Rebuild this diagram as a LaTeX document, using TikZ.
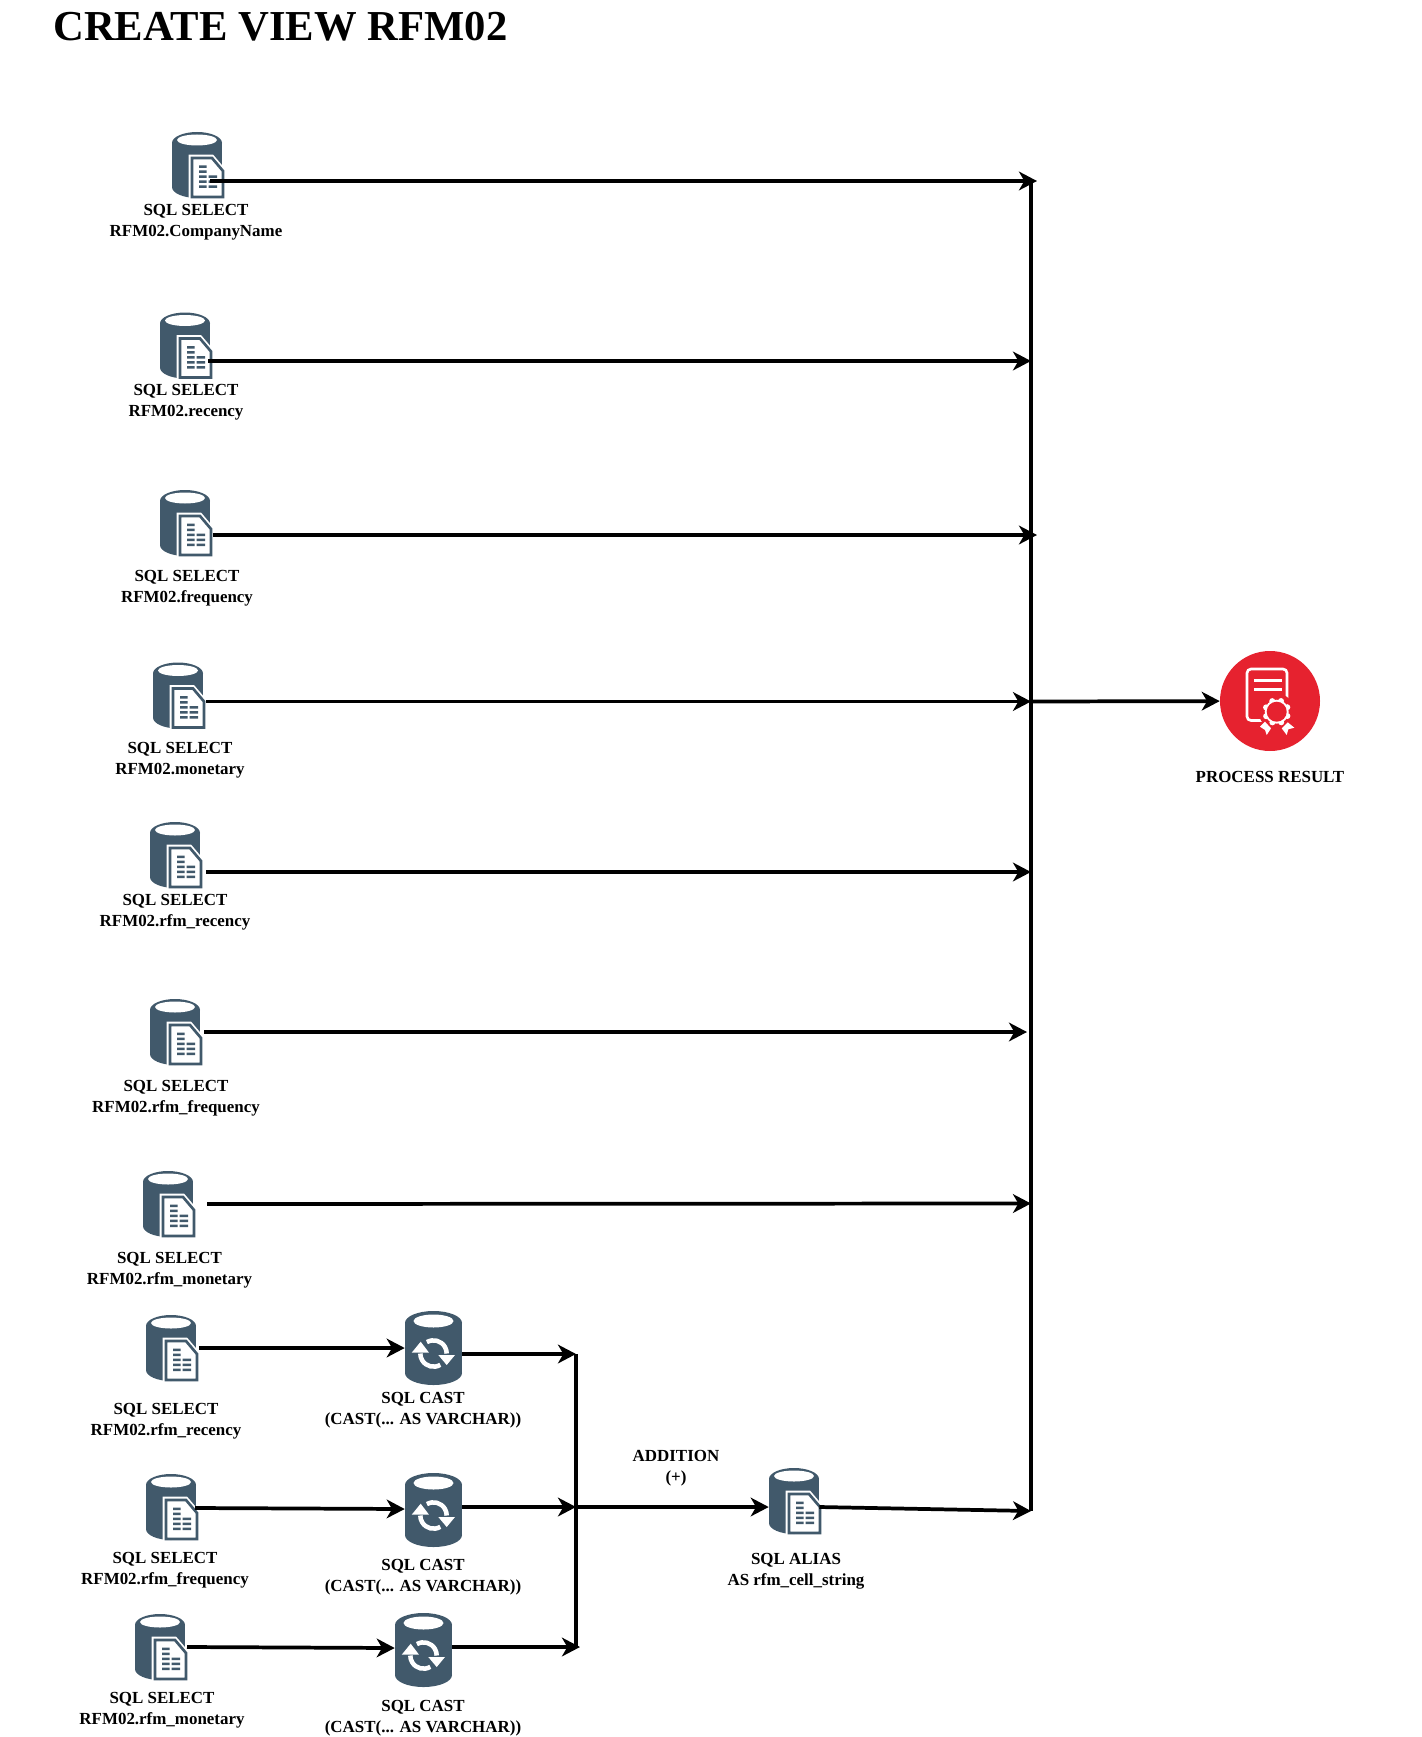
\documentclass[tikz,border=0pt]{standalone}
\usepackage{fontspec}
\setmainfont{Liberation Serif}
\usepackage{xcolor}
\usetikzlibrary{arrows.meta, positioning, calc}
\definecolor{dbslate}{HTML}{41596B}
\definecolor{certred}{HTML}{E6222F}
\tikzset{
  dbbox/.style={rectangle, minimum width=37.5pt, minimum height=49.5pt, inner sep=0pt},
  castbox/.style={rectangle, minimum width=42.75pt, minimum height=55.5pt, inner sep=0pt},
  resbox/.style={circle, fill=certred, minimum size=75pt, inner sep=0pt},
  lab/.style={font=\fontsize{12.7}{15.75}\selectfont\bfseries, align=center, inner sep=0pt},
  flow/.style={draw=black, line width=2.8pt, -{Stealth[length=13.5pt, width=14pt, inset=4pt]}},
  busline/.style={draw=black, line width=3pt},
  dbdoc/.pic={
    \fill[dbslate] (-25,-22) rectangle (25,22);
    \fill[dbslate] (0,-22) ellipse [x radius=25, y radius=11];
    \fill[dbslate] (0,22) ellipse [x radius=25, y radius=11];
    \fill[white] (0,-25) ellipse [x radius=20, y radius=5.5];
    \draw[white, line width=3.6pt, line join=miter] (-6,-8) -- (15,-8) -- (26,5) -- (26,31) -- (-6,31) -- cycle;
    \fill[white] (-8,31) rectangle (28,33);
    \draw[dbslate, fill=white, line width=2pt] (-5,-7) -- (15,-7) -- (26,6) -- (26,32) -- (-5,32) -- cycle;
    \fill[dbslate] (2,0.5) rectangle (9.5,3) (2,5.5) rectangle (9.5,8)
      (2,10.5) rectangle (9.5,13) (11.5,10.5) rectangle (20,13)
      (2,15.5) rectangle (9.5,18) (11.5,15.5) rectangle (20,18)
      (2,20.5) rectangle (9.5,23) (11.5,20.5) rectangle (20,23);
  },
  dbsync/.pic={
    \fill[dbslate] (-28.5,-25) rectangle (28.5,25);
    \fill[dbslate] (0,-25) ellipse [x radius=28.5, y radius=12];
    \fill[dbslate] (0,25) ellipse [x radius=28.5, y radius=12];
    \fill[white] (0,-27) ellipse [x radius=20, y radius=6.5];
    \draw[white, line width=3.4pt] (6.8,16.8) arc [start angle=59, end angle=180, radius=13.2];
    \draw[white, line width=3.4pt] (-6.6,-5.9) arc [start angle=240, end angle=360, radius=13.2];
    \fill[white] (-21.8,4.7) -- (-4.5,4.7) -- (-12.8,-6.3) -- cycle;
    \fill[white] (4.8,7) -- (21.5,7) -- (13.2,17) -- cycle;
  },
  certmark/.pic={
    \draw[white, line width=2pt, rounded corners=3pt] (-23,-32) rectangle (17,19.5);
    \draw[white, line width=2.2pt] (-16,-20.3) -- (11.7,-20.3) (-16,-11.7) -- (11.7,-11.7);
    \fill[certred] (6.7,10.7) circle [radius=18];
    \fill[white] (-10,25.7) -- (-5,20.7) -- (1,27.3) -- (-3.3,34) -- (-5,29) -- cycle;
    \fill[white] (11.7,27.3) -- (17.7,21.3) -- (24.3,26.7) -- (18.3,28.3) -- (16.7,34) -- cycle;
    \fill[white] (6.7,10.7) circle [radius=12];
    \foreach \a in {0,45,...,315} \fill[white] (6.7,10.7) ++(\a+22:11.5) circle [radius=3];
    \fill[certred] (6.7,10.7) circle [radius=10];
  },
}
\begin{document}
\begin{tikzpicture}[x=0.75pt, y=-0.75pt]
  \useasboundingbox (0,0) rectangle (1421,1737);

  \node[font=\fontsize{32}{38}\selectfont\bfseries, anchor=west, inner sep=0pt] (title) at (53,27) {CREATE VIEW RFM02};

  % source columns
  \node[dbbox] (s1) at (197,165) {}; \pic at (s1) {dbdoc};
  \node[dbbox] (s2) at (185,345.5) {}; \pic at (s2) {dbdoc};
  \node[dbbox] (s3) at (185,523) {}; \pic at (s3) {dbdoc};
  \node[dbbox] (s4) at (178,695.5) {}; \pic at (s4) {dbdoc};
  \node[dbbox] (s5) at (175,855) {}; \pic at (s5) {dbdoc};
  \node[dbbox] (s6) at (175,1032) {}; \pic at (s6) {dbdoc};
  \node[dbbox] (s7) at (168,1204) {}; \pic at (s7) {dbdoc};
  \node[dbbox] (s8) at (171,1348) {}; \pic at (s8) {dbdoc};
  \node[dbbox] (s9) at (171,1507) {}; \pic at (s9) {dbdoc};
  \node[dbbox] (s10) at (160,1647) {}; \pic at (s10) {dbdoc};

  \node[lab] (s1t) at (196,222) {SQL SELECT\\RFM02.CompanyName};
  \node[lab] (s2t) at (186,402) {SQL SELECT\\RFM02.recency};
  \node[lab] (s3t) at (187,588) {SQL SELECT\\RFM02.frequency};
  \node[lab] (s4t) at (180,760) {SQL SELECT\\RFM02.monetary};
  \node[lab] (s5t) at (175,912) {SQL SELECT\\RFM02.rfm\_recency};
  \node[lab] (s6t) at (176,1098) {SQL SELECT\\RFM02.rfm\_frequency};
  \node[lab] (s7t) at (169.5,1270) {SQL SELECT\\RFM02.rfm\_monetary};
  \node[lab] (s8t) at (166,1421) {SQL SELECT\\RFM02.rfm\_recency};
  \node[lab] (s9t) at (165,1570) {SQL SELECT\\RFM02.rfm\_frequency};
  \node[lab] (s10t) at (162,1710) {SQL SELECT\\RFM02.rfm\_monetary};

  % casts
  \node[castbox] (c1) at (433.5,1348) {}; \pic at (c1) {dbsync};
  \node[castbox] (c2) at (433.5,1510) {}; \pic at (c2) {dbsync};
  \node[castbox] (c3) at (423.5,1650) {}; \pic at (c3) {dbsync};
  \node[lab] (c1t) at (423,1410.5) {SQL CAST\\(CAST(... AS VARCHAR))};
  \node[lab] (c2t) at (423,1577.5) {SQL CAST\\(CAST(... AS VARCHAR))};
  \node[lab] (c3t) at (423,1718.5) {SQL CAST\\(CAST(... AS VARCHAR))};

  \node[dbbox] (al) at (794,1501) {}; \pic at (al) {dbdoc};
  \node[lab] (alt) at (796,1571) {SQL ALIAS\\AS rfm\_cell\_string};
  \node[lab] (addt) at (676,1468.5) {ADDITION\\(+)};

  \node[resbox] (res) at (1270,701) {}; \pic at (res) {certmark};
  \node[lab] (rest) at (1270,776.5) {PROCESS RESULT};

  % junctions on the two bars
  \coordinate (j1) at (1037,181);
  \coordinate (j2) at (1031,361);
  \coordinate (j3) at (1037,535);
  \coordinate (j4) at (1031,701.5);
  \coordinate (j5) at (1031,872);
  \coordinate (j6) at (1027,1032);
  \coordinate (j7) at (1031,1203.5);
  \coordinate (j8) at (1031,1511);
  \coordinate (k1) at (576,1354);
  \coordinate (k2) at (576,1507);
  \coordinate (k3) at (580,1647);

  \draw[busline] (1031,181) -- (1031,1511);
  \draw[busline] (576,1354) -- (576,1647);

  \draw[flow] ([shift={(13,16)}]s1.center) -- (j1);
  \draw[flow] ([shift={(23,15.5)}]s2.center) -- (j2);
  \draw[flow] ([shift={(28,12)}]s3.center) -- (j3);
  \draw[flow] ([shift={(28,6)}]s4.center) -- (j4);
  \draw[flow] ([shift={(31,17)}]s5.center) -- (j5);
  \draw[flow] ([shift={(29,0)}]s6.center) -- (j6);
  \draw[flow] ([shift={(39,0)}]s7.center) -- (j7);
  \draw[flow] ([shift={(28,0)}]s8.center) -- (c1.west);
  \draw[flow] ([shift={(24,1)}]s9.center) -- (c2.west |- 0,1509);
  \draw[flow] ([shift={(27,0)}]s10.center) -- (c3.west |- 0,1648);
  \draw[flow] ([yshift=-4.5pt]c1.east) -- (k1);
  \draw[flow] ([yshift=2.25pt]c2.east) -- (k2);
  \draw[flow] ([yshift=2.25pt]c3.east) -- (k3);
  \draw[flow] (k2) -- (al.west |- k2);
  \draw[flow] (al.east |- k2) -- (j8);
  \draw[flow] (j4) -- (res);
\end{tikzpicture}
\end{document}
